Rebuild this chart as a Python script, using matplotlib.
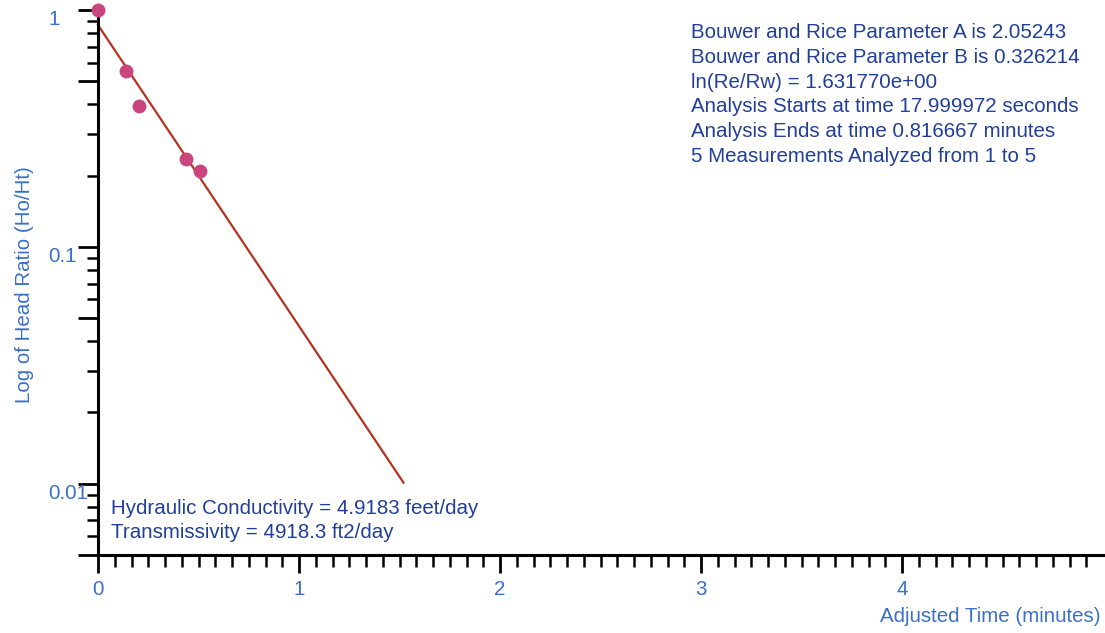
import matplotlib
matplotlib.use("Agg")
import matplotlib.pyplot as plt
from matplotlib.ticker import FixedLocator

# Measured head ratios against adjusted time (minutes)
time_min = [0.0, 0.14, 0.205, 0.44, 0.505]
head_ratio = [1.0, 0.553, 0.393, 0.235, 0.210]

# Bouwer-Rice fitted straight line (end points in time / head ratio)
fit_time = [0.0, 1.52]
fit_ratio = [0.864, 0.0101]

# Axis ticks
x_major = [0, 1, 2, 3, 4]
x_major_labels = ["0", "1", "2", "3", "4"]
x_minor = [k / 12 for k in range(1, 60) if k % 12 != 0]
y_major = [0.005, 0.01, 0.05, 0.1, 0.5, 1.0]
y_major_labels = ["", "0.01", "", "0.1", "", "1"]
y_minor = ([m * 0.001 for m in (6, 7, 8, 9)] + [m * 0.01 for m in (2, 3, 4, 6, 7, 8, 9)]
           + [m * 0.1 for m in (2, 3, 4, 6, 7, 8, 9)])

results_lines = [
    "Bouwer and Rice Parameter A is 2.05243",
    "Bouwer and Rice Parameter B is 0.326214",
    "ln(Re/Rw) = 1.631770e+00",
    "Analysis Starts at time 17.999972 seconds",
    "Analysis Ends at time 0.816667 minutes",
    "5 Measurements Analyzed from 1 to 5",
]
property_lines = [
    "Hydraulic Conductivity = 4.9183 feet/day",
    "Transmissivity = 4918.3 ft2/day",
]

plt.rcParams["font.family"] = ["Liberation Sans", "DejaVu Sans"]

W, H = 1105, 633
FS = 14.8
fig = plt.figure(figsize=(W / 100, H / 100), dpi=100)
fig.patch.set_facecolor("white")
ax = fig.add_axes([98 / W, (H - 555) / H, (1103 - 98) / W, (555 - 10) / H])

navy = "#213f98"
label_blue = "#3a70c8"
dot_col = "#c9457e"
line_col = "#b8321f"

ax.set_yscale("log")
ax.set_xlim(0, 5)
ax.set_ylim(0.005, 1.0)

ax.plot(fit_time, fit_ratio, color=line_col, lw=1.6, zorder=2, clip_on=False)
ax.plot(time_min, head_ratio, "o", color=dot_col, ms=10, mec="none", zorder=3, clip_on=False)

for s in ("top", "right"):
    ax.spines[s].set_visible(False)
for s in ("left", "bottom"):
    ax.spines[s].set_linewidth(2.2)
    ax.spines[s].set_color("black")

ax.xaxis.set_major_locator(FixedLocator(x_major))
ax.xaxis.set_minor_locator(FixedLocator(x_minor))
ax.set_xticklabels(x_major_labels)
ax.yaxis.set_major_locator(FixedLocator(y_major))
ax.yaxis.set_minor_locator(FixedLocator(y_minor))
ax.set_yticklabels(y_major_labels)
ax.yaxis.set_minor_formatter(plt.NullFormatter())

ax.tick_params(axis="x", which="major", direction="out", length=13, width=2.0,
               pad=5, labelsize=FS, labelcolor=label_blue)
ax.tick_params(axis="x", which="minor", direction="out", length=8.5, width=1.8)
ax.tick_params(axis="y", which="major", direction="out", length=14.5, width=2.0,
               pad=21.5, labelsize=FS, labelcolor=label_blue)
ax.tick_params(axis="y", which="minor", direction="out", length=8, width=1.8)
for lbl in ax.get_yticklabels():
    lbl.set_horizontalalignment("left")
    lbl.set_verticalalignment("top")

fig.text(25 / W, 1 - 285 / H, "Log of Head Ratio (Ho/Ht)", rotation=90,
         ha="center", va="center", color=label_blue, fontsize=FS)
fig.text(1100 / W, 1 - 617 / H, "Adjusted Time (minutes)", ha="right", va="center",
         color=label_blue, fontsize=FS)

for i, line in enumerate(results_lines):
    fig.text(691 / W, 1 - (32.5 + 24.8 * i) / H, line, ha="left", va="center",
             color=navy, fontsize=FS)
for i, line in enumerate(property_lines):
    fig.text(111 / W, 1 - (508 + 24.5 * i) / H, line, ha="left", va="center",
             color=navy, fontsize=FS)

fig.savefig("out.png", dpi=100, facecolor="white")
